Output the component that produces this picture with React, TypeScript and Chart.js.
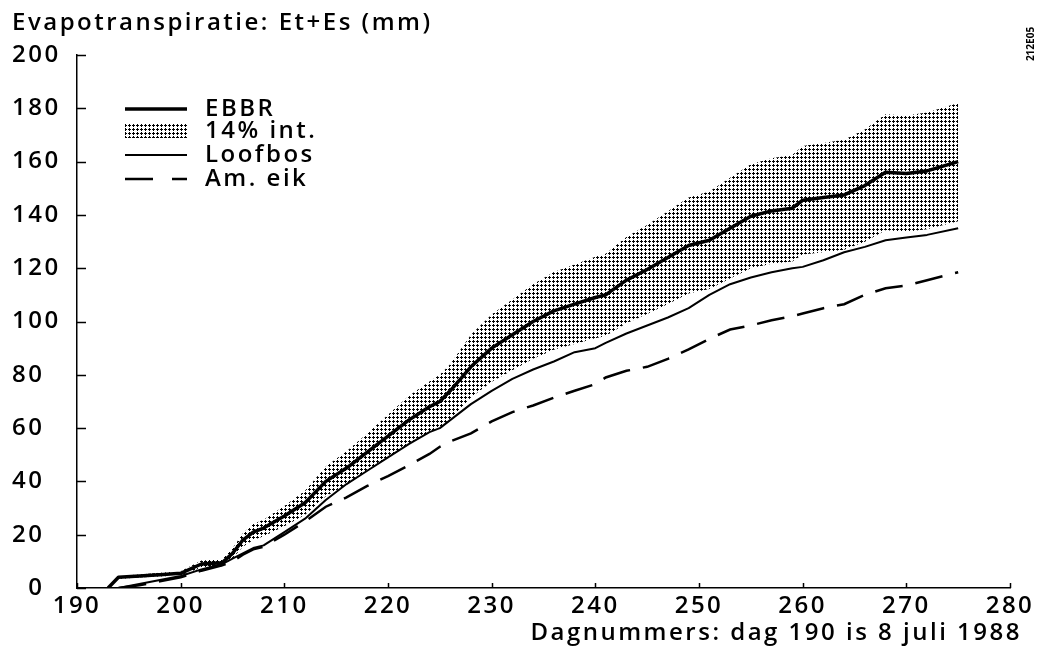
import React, { useEffect, useRef } from "react";
import { Chart, registerables } from "chart.js";

Chart.register(...registerables);

// ---- data ----
const days = [193, 194, 196, 198, 200, 202, 204, 205, 206, 207, 208, 210, 212, 214, 216, 218, 220, 222, 224, 225, 226, 228, 230, 232, 234, 236, 238, 240, 241, 243, 245, 247, 249, 251, 253, 255, 257, 259, 260, 262, 264, 266, 268, 270, 272, 275];

const ebbr = [0, 4, 4.5, 5, 5.5, 9, 9.5, 13, 18, 21, 22.5, 27, 32, 40, 45, 51, 57, 63, 68, 70, 74, 83, 90, 95, 100, 104, 106.5, 109, 110, 115.5, 119.5, 124, 128.5, 130.5, 135, 139.5, 141.5, 142.5, 145.5, 146.5, 147.5, 151, 156, 155.5, 156.5, 160];

const bandUpper = [0, 4.6, 5.1, 5.7, 6.3, 10.3, 10.8, 14.8, 20.5, 24, 25.6, 30.8, 36.5, 45.6, 51.3, 58, 65, 72, 77.5, 80, 84, 95, 102.6, 108.3, 114, 118.6, 121.4, 124.3, 125.4, 131.7, 136.2, 141.4, 146.5, 148.8, 153.9, 159, 161.3, 162.5, 165.9, 167, 168.2, 172, 177.8, 177.3, 178.4, 182];

const bandLower = [0, 3.4, 3.9, 4.3, 4.7, 7.7, 8.2, 11.2, 15.5, 18, 19.4, 23.2, 27.5, 34.4, 38.7, 43.9, 49, 54.2, 58.5, 60.2, 63.5, 71.5, 77.4, 81.7, 86, 89.4, 91.6, 93.7, 94.6, 99.3, 102.8, 106.6, 110.5, 112.2, 116.1, 120, 121.7, 122.5, 125.1, 126, 126.9, 129.9, 134.2, 133.7, 134.6, 137.6];

const loofbos = [null, 0, 1.5, 3, 4.5, 7, 9, 11, 13, 15, 16, 21, 26, 33, 39, 44, 49, 54, 58.5, 60, 63, 69, 74, 78.5, 82, 85, 88.5, 90, 92, 95.5, 98.5, 101.5, 105, 110, 114, 116.5, 118.5, 120, 120.5, 123, 126, 128, 130.5, 131.5, 132.5, 135];

const amEik = [null, 0, 1, 2.5, 4, 6.5, 8.5, 10, 12.5, 14.5, 15.5, 20, 25, 30.5, 34, 38.3, 42, 46, 50.3, 53, 55, 58, 62.5, 66, 68.5, 71.4, 74, 76.5, 79, 81.5, 83, 86, 89.5, 93.5, 97, 98.5, 100.5, 102, 103, 105, 106.5, 110, 112.5, 113.5, 115.5, 118.5];

const xTicks = [190, 200, 210, 220, 230, 240, 250, 260, 270, 280];
const yTicks = [0, 20, 40, 60, 80, 100, 120, 140, 160, 180, 200];

const seriesNames = ["EBBR", "14% int.", "Loofbos", "Am. eik"];
const titleText = "Evapotranspiratie: Et+Es (mm)";
const xTitleText = "Dagnummers: dag 190 is 8 juli 1988";
const sideCode = "212E05";

// ---- styles ----
const FONT = '"Open Sans", "DejaVu Sans", sans-serif';
const FSIZE = 24;
const LS = "2.5px";

function makePattern(ctx: CanvasRenderingContext2D) {
  const c = document.createElement("canvas");
  c.width = 4;
  c.height = 4;
  const p = c.getContext("2d")!;
  p.fillStyle = "#000";
  p.fillRect(1, 0, 1, 3);
  p.fillRect(0, 1, 3, 1);
  return ctx.createPattern(c, "repeat")!;
}

export default function App() {
  const ref = useRef<HTMLCanvasElement>(null);

  useEffect(() => {
    const canvas = ref.current!;
    const ctx = canvas.getContext("2d")!;
    const pattern = makePattern(ctx);
    const pts = (arr: (number | null)[]) => days.map((d, i) => ({ x: d, y: arr[i] }));

    const overlay = {
      id: "overlay",
      afterInit(chart: any) {
        chart.ctx.letterSpacing = LS;
      },
      beforeUpdate(chart: any) {
        chart.ctx.letterSpacing = LS;
      },
      afterDraw(chart: any) {
        const c = chart.ctx as CanvasRenderingContext2D;
        const xs = chart.scales.x;
        const ys = chart.scales.y;
        const area = chart.chartArea;
        c.save();
        c.letterSpacing = LS;
        // inward tick marks
        c.strokeStyle = "#000";
        c.lineWidth = 1.5;
        c.beginPath();
        yTicks.forEach((v) => {
          const py = Math.round(ys.getPixelForValue(v)) + 0.5;
          c.moveTo(area.left, py);
          c.lineTo(area.left + 9, py);
        });
        xTicks.forEach((v) => {
          const px = Math.round(xs.getPixelForValue(v)) + 0.5;
          c.moveTo(px, area.bottom);
          c.lineTo(px, area.bottom - 5);
        });
        c.stroke();

        // titles
        c.fillStyle = "#000";
        c.font = `600 ${FSIZE}px ${FONT}`;
        c.textBaseline = "middle";
        c.textAlign = "left";
        c.fillText(titleText, 12, 23);
        c.textAlign = "right";
        c.fillText(xTitleText, 1022, 633);

        // side code, rotated
        c.save();
        c.letterSpacing = "0px";
        c.translate(1031, 44);
        c.rotate(-Math.PI / 2);
        c.font = `bold 10px ${FONT}`;
        c.textAlign = "center";
        c.fillText(sideCode, 0, 0);
        c.restore();

        // legend
        const x0 = 125;
        const x1 = 187;
        const tx = 205;
        const rows = [109, 131, 155, 179];
        const ds = chart.data.datasets;
        c.lineCap = "butt";
        c.beginPath();
        c.lineWidth = ds[0].borderWidth;
        c.moveTo(x0, rows[0]);
        c.lineTo(x1, rows[0]);
        c.stroke();
        c.fillStyle = pattern;
        c.fillRect(x0, rows[1] - 7, x1 - x0 + 1, 14);
        c.beginPath();
        c.lineWidth = ds[1].borderWidth;
        c.moveTo(x0, rows[2]);
        c.lineTo(x1, rows[2]);
        c.stroke();
        c.beginPath();
        c.lineWidth = ds[2].borderWidth;
        c.setLineDash([28, 19]);
        c.moveTo(x0, rows[3]);
        c.lineTo(x1, rows[3]);
        c.stroke();
        c.setLineDash([]);

        c.fillStyle = "#000";
        c.textAlign = "left";
        c.font = `600 ${FSIZE}px ${FONT}`;
        seriesNames.forEach((n, i) => c.fillText(n, tx, rows[i]));
        c.restore();
      },
    };

    const chart = new Chart(canvas, {
      type: "line",
      data: {
        datasets: [
          {
            label: seriesNames[0],
            data: pts(ebbr),
            borderColor: "#000",
            borderWidth: 3.5,
            pointRadius: 0,
            tension: 0,
            fill: false,
            borderJoinStyle: "round",
          },
          {
            label: seriesNames[2],
            data: pts(loofbos),
            borderColor: "#000",
            borderWidth: 2,
            pointRadius: 0,
            tension: 0,
            fill: false,
            borderJoinStyle: "round",
          },
          {
            label: seriesNames[3],
            data: pts(amEik),
            borderColor: "#000",
            borderWidth: 2.5,
            borderDash: [28, 13],
            pointRadius: 0,
            tension: 0,
            fill: false,
          },
          {
            label: seriesNames[1] + " boven",
            data: pts(bandUpper),
            borderWidth: 0,
            borderColor: "rgba(0,0,0,0)",
            backgroundColor: pattern,
            pointRadius: 0,
            tension: 0,
            fill: "+1",
          },
          {
            label: seriesNames[1] + " onder",
            data: pts(bandLower),
            borderWidth: 0,
            borderColor: "rgba(0,0,0,0)",
            pointRadius: 0,
            tension: 0,
            fill: false,
          },
        ],
      },
      options: {
        responsive: false,
        animation: false,
        devicePixelRatio: 1,
        layout: { padding: { left: 12, top: 55, right: 33, bottom: 0 } },
        plugins: {
          legend: { display: false },
          tooltip: { enabled: false },
          title: { display: false },
        },
        scales: {
          x: {
            type: "linear",
            min: 190,
            max: 280,
            afterBuildTicks: (s: any) => {
              s.ticks = xTicks.map((v) => ({ value: v }));
            },
            afterFit: (s: any) => {
              s.height = 59;
            },
            grid: { display: false, drawTicks: false },
            border: { display: true, color: "#000", width: 1.5 },
            ticks: {
              color: "#000",
              padding: 4,
              maxRotation: 0,
              autoSkip: false,
              font: { family: FONT, size: FSIZE, weight: "600" },
            },
          },
          y: {
            min: 0,
            max: 200,
            afterBuildTicks: (s: any) => {
              s.ticks = yTicks.map((v) => ({ value: v }));
            },
            afterFit: (s: any) => {
              s.width = 65;
            },
            grid: { display: false, drawTicks: false },
            border: { display: true, color: "#000", width: 1.5 },
            ticks: {
              color: "#000",
              crossAlign: "far",
              autoSkip: false,
              callback: (v: any) => (v === 0 ? "\u2007" + "0" : String(v)),
              font: { family: FONT, size: FSIZE, weight: "600" },
            },
          },
        },
      },
      plugins: [overlay],
    } as any);

    return () => chart.destroy();
  }, []);

  return (
    <div style={{ position: "fixed", left: 0, top: 0, width: 1043, height: 647, background: "#fff" }}>
      <canvas ref={ref} width={1043} height={647} style={{ display: "block", width: 1043, height: 647 }} />
    </div>
  );
}
